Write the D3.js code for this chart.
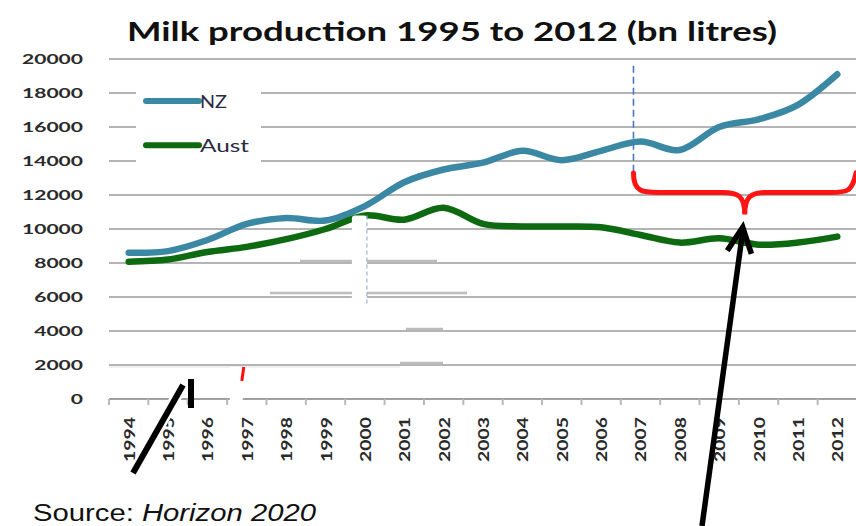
<!DOCTYPE html>
<html><head><meta charset="utf-8">
<script src="https://cdn.jsdelivr.net/npm/d3@7/dist/d3.min.js"></script>
<style>body{margin:0;background:#fff}svg{display:block}</style>
</head><body>
<svg id="c" width="856" height="526"></svg>
<script>
const years = ["1994","1995","1996","1997","1998","1999","2000","2001","2002","2003","2004","2005","2006","2007","2008","2009","2010","2011","2012"];
const nz   = [8600,8700,9350,10300,10650,10500,11350,12750,13500,13900,14600,14050,14600,15150,14650,16000,16450,17300,19100];
const aust = [8080,8200,8650,8950,9400,10000,10800,10550,11250,10300,10150,10150,10100,9650,9200,9450,9080,9200,9550];
const yTicks = [0,2000,4000,6000,8000,10000,12000,14000,16000,18000,20000];
const seriesNames = ["NZ","Aust"];
const seriesColors = ["#3a88a3","#0d6a10"];
const title = "Milk production 1995 to 2012 (bn litres)";

const svg = d3.select("#c");
const x = d3.scaleBand(years,[109,857]);
const y = d3.scaleLinear([0,20000],[399,59]);
const cx = d => x(d) + x.bandwidth()/2;
const bw = x.bandwidth();

// title
svg.append("text").attr("x",127).attr("y",41)
  .attr("font-family","Lato, 'Open Sans', sans-serif").attr("font-weight","bold")
  .attr("font-size",27).attr("fill","#111")
  .attr("textLength",650).attr("lengthAdjust","spacingAndGlyphs").text(title);

// gridlines
svg.append("g").selectAll("line").data(yTicks.filter(v=>v>0)).join("line")
  .attr("x1",109).attr("x2",857).attr("y1",d=>y(d)).attr("y2",d=>y(d))
  .attr("stroke","#b4b4b4").attr("stroke-width",2.2);

// y labels
svg.append("g").selectAll("text").data(yTicks).join("text")
  .attr("x",83).attr("y",d=>y(d)+5).attr("text-anchor","end")
  .attr("font-family","Lato, sans-serif").attr("font-weight","bold").attr("font-size",14)
  .attr("fill","#2a2a2a")
  .attr("textLength",d=>String(d).length*12.2).attr("lengthAdjust","spacingAndGlyphs")
  .text(d=>d);

// x axis
const ax = svg.append("g");
ax.append("line").attr("x1",109).attr("x2",857).attr("y1",y(0)).attr("y2",y(0))
  .attr("stroke","#a0a0a0").attr("stroke-width",2);
ax.selectAll("line.t").data(years.concat(["end"])).join("line").attr("class","t")
  .attr("x1",(d,i)=>109+i*bw).attr("x2",(d,i)=>109+i*bw)
  .attr("y1",y(0)).attr("y2",y(0)+6).attr("stroke","#b8b8b8").attr("stroke-width",2);
ax.selectAll("text").data(years).join("text")
  .attr("transform",d=>`translate(${cx(d)+6},417) rotate(-90)`)
  .attr("text-anchor","end")
  .attr("font-family","Lato, sans-serif").attr("font-weight","bold").attr("font-size",15)
  .attr("fill","#2a2a2a")
  .attr("textLength",45).attr("lengthAdjust","spacingAndGlyphs").text(d=>d);

// lines
const line = d3.line().x((d,i)=>cx(years[i])).y(d=>y(d)).curve(d3.curveCatmullRom.alpha(0));
[nz,aust].forEach((s,k)=>{
  svg.append("path").attr("d",line(s)).attr("fill","none")
    .attr("stroke",seriesColors[k]).attr("stroke-width",6.5)
    .attr("stroke-linecap","round").attr("stroke-linejoin","round");
});

// legend
const lg = svg.append("g");
lg.append("rect").attr("x",136).attr("y",70).attr("width",125).attr("height",104).attr("fill","#fff");
seriesNames.forEach((n,i)=>{
  const yy = y(18000)+8 + i*(y(16000)-y(18000))*1.3;
  lg.append("line").attr("x1",146).attr("x2",199).attr("y1",yy).attr("y2",yy)
    .attr("stroke",seriesColors[i]).attr("stroke-width",6).attr("stroke-linecap","round");
  lg.append("text").attr("x",200).attr("y",yy+7)
    .attr("font-family","Lato, sans-serif").attr("font-size",17).attr("fill","#2b2b45")
    .attr("textLength",n.length===2?27:49).attr("lengthAdjust","spacingAndGlyphs").text(n);
});

// screenshot artefacts (pasted fragments)
const art = svg.append("g");
[[300,437,261],[270,467,293],[406,443,329],[400,443,363]].forEach(s=>{
  art.append("line").attr("x1",s[0]).attr("x2",s[1]).attr("y1",s[2]).attr("y2",s[2])
    .attr("stroke","#bcbcbc").attr("stroke-width",2.5);
});
art.append("line").attr("x1",109).attr("x2",400).attr("y1",367).attr("y2",367)
  .attr("stroke","#e2e2e2").attr("stroke-width",1);
art.append("rect").attr("x",cx("2000")-13).attr("y",y(10800)).attr("width",15).attr("height",93)
  .attr("rx",3).attr("fill","#fff");
art.append("line").attr("x1",cx("2000")+2).attr("x2",cx("2000")+2).attr("y1",y(10800)).attr("y2",y(5500))
  .attr("stroke","#9fb3d6").attr("stroke-width",1.2).attr("stroke-dasharray","4,3");
art.append("rect").attr("x",cx("1997")-17).attr("y",367).attr("width",13).attr("height",38).attr("fill","#fff");
art.append("line").attr("x1",cx("1997")-3).attr("x2",cx("1997")-5).attr("y1",367).attr("y2",381)
  .attr("stroke","#ff1010").attr("stroke-width",3);

// bottom-left arrow fragment
art.append("line").attr("x1",133).attr("y1",473).attr("x2",183).attr("y2",385)
  .attr("stroke","#fff").attr("stroke-width",11);
art.append("line").attr("x1",133).attr("y1",473).attr("x2",183).attr("y2",385)
  .attr("stroke","#000").attr("stroke-width",6);
art.append("line").attr("x1",191).attr("y1",379).attr("x2",191).attr("y2",408)
  .attr("stroke","#000").attr("stroke-width",6);

// dashed vertical marker at 2007
const xd = cx("2007")-7;
svg.append("line").attr("x1",xd).attr("x2",xd).attr("y1",y(19600)).attr("y2",y(12600))
  .attr("stroke","#4a78c2").attr("stroke-width",1.6).attr("stroke-dasharray","7,4");

// red brace
const bl = xd, br = 856, bm = (bl+br)/2;
const yt = y(13300), yh = y(12150), yp = y(10850);
const brace = d3.path();
brace.moveTo(bl, yt);
brace.bezierCurveTo(bl, yh, bl+10, yh, bl+25, yh);
brace.lineTo(bm-22, yh);
brace.bezierCurveTo(bm-6, yh, bm, yh+4, bm, yp);
brace.bezierCurveTo(bm, yh+4, bm+6, yh, bm+22, yh);
brace.lineTo(br-25, yh);
brace.bezierCurveTo(br-10, yh, br-4, yh, br, yt);
svg.append("path").attr("d",brace.toString()).attr("fill","none")
  .attr("stroke","#ff1414").attr("stroke-width",5).attr("stroke-linecap","round");

// black arrow to the brace
const tipX = bm-2, tipY = y(10100);
const baseX = 702, baseY = 526;
svg.append("line").attr("x1",baseX).attr("y1",baseY).attr("x2",tipX).attr("y2",tipY+4)
  .attr("stroke","#000").attr("stroke-width",5.5);
const ang = Math.atan2(tipY-baseY, tipX-baseX);
const L = 28, spread = 0.45;
svg.append("path")
  .attr("d",`M${tipX+L*Math.cos(ang+Math.PI-spread)},${tipY+L*Math.sin(ang+Math.PI-spread)} L${tipX},${tipY} L${tipX+L*Math.cos(ang+Math.PI+spread)},${tipY+L*Math.sin(ang+Math.PI+spread)}`)
  .attr("fill","none").attr("stroke","#000").attr("stroke-width",5.5).attr("stroke-linejoin","miter");

// source
const src = svg.append("text").attr("x",33).attr("y",521)
  .attr("font-family","'Liberation Sans', Arial, sans-serif").attr("font-size",23).attr("fill","#111")
  .attr("textLength",283).attr("lengthAdjust","spacingAndGlyphs");
src.append("tspan").text("Source: ");
src.append("tspan").attr("font-style","italic").text("Horizon 2020");
</script>
</body></html>
